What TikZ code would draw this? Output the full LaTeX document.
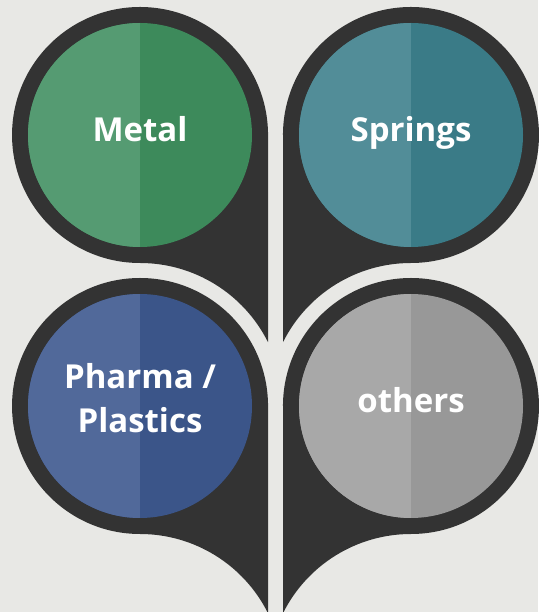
\documentclass[tikz,border=0pt]{standalone}
\usepackage{fontspec}
\setmainfont{Open Sans}
\definecolor{bg}{HTML}{E8E8E5}
\definecolor{ring}{HTML}{333333}
\definecolor{metalL}{HTML}{559B72}
\definecolor{metalD}{HTML}{3D8A5B}
\definecolor{springsL}{HTML}{528D98}
\definecolor{springsD}{HTML}{3A7B87}
\definecolor{pharmaL}{HTML}{51699A}
\definecolor{pharmaD}{HTML}{3B5589}
\definecolor{othersL}{HTML}{A8A8A8}
\definecolor{othersD}{HTML}{989898}
\begin{document}
\begin{tikzpicture}[x=1pt,y=1pt,
        disc/.style={circle,inner sep=0pt,minimum size=224pt,text=white,
            font=\bfseries\fontsize{33}{44}\selectfont,align=center,
            text height=24pt,text depth=10pt},
        halves/.style 2 args={fill=#2,path picture={
            \fill[#1] (path picture bounding box.south west) rectangle (path picture bounding box.north);}}]
    \fill[bg] (0,0) rectangle (538,612);
    \useasboundingbox (0,0) rectangle (538,612);
    %drops
    \foreach \cx/\cy/\s in {140/477/1,411/477/-1,140/206/1,411/206/-1}
        \fill[ring,shift={(\cx,\cy)},xscale=\s] (128,0) -- (128,-207.2)
            arc[start angle=26.5,end angle=90,radius=143pt]
            arc[start angle=270,end angle=0,radius=128pt] -- cycle;
    %discs
    \node[disc,halves={metalL}{metalD}] (metal) at (140,477) {Metal};
    \node[disc,halves={springsL}{springsD}] (springs) at (411,477) {Springs};
    \node[disc,halves={pharmaL}{pharmaD},text height=64pt] (pharma) at (140,206) {Pharma /\\Plastics};
    \node[disc,halves={othersL}{othersD}] (others) at (411,206) {others};
\end{tikzpicture}
\end{document}
